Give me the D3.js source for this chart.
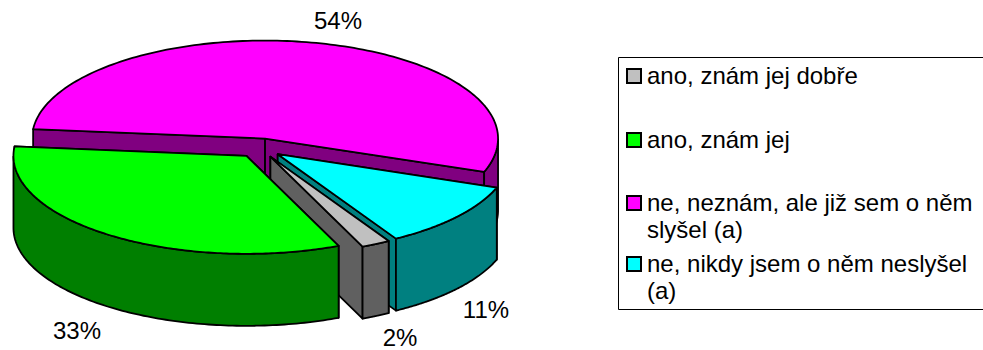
<!DOCTYPE html>
<html>
<head>
<meta charset="utf-8">
<script src="https://cdn.jsdelivr.net/npm/d3@7"></script>
<style>
  html, body { margin: 0; padding: 0; background: #fff; overflow: hidden; }
  text { font-family: "Liberation Sans", Arial, sans-serif; fill: #000; }
</style>
</head>
<body>
<div id="chart"></div>
<script>
const categories = [
  "ano, znám jej dobře",
  "ano, znám jej",
  "ne, neznám, ale již sem o něm slyšel (a)",
  "ne, nikdy jsem o něm neslyšel (a)",
];
const values = [2, 33, 54, 11];
const topColors = ["#c0c0c0", "#00ff00", "#ff00ff", "#00ffff"];
const wallColors = ["#606060", "#007f00", "#800080", "#008080"];

const width = 983;
const height = 350;

const cx = 260;
const cy = 148;
const rx = 233;
const ry = 98;
const depth = 72;
const explode = 23;
const rad = Math.PI / 180;
const startDeg = 149.5;

// percent labels, [middle x, baseline y], same order as categories
const labelPos = [[400, 346], [77, 339], [338, 29], [486, 318]];
const legendBaselines = [84, 148, 211, 272];

const svg = d3
  .select("#chart")
  .append("svg")
  .attr("width", width)
  .attr("height", height);

const pie = d3
  .pie()
  .sort(null)
  .startAngle(startDeg * rad)
  .endAngle((startDeg + 360) * rad);

const arcs = pie(values);
const line = d3.line();

// angle is clockwise from the top, like d3.pie
const point = (c, a, dy = 0) => [
  c[0] + rx * Math.sin(a),
  c[1] - ry * Math.cos(a) + dy,
];

const slices = arcs.map((d, i) => {
  const mid = (d.startAngle + d.endAngle) / 2;
  const c = [
    cx + explode * Math.sin(mid),
    cy - (explode * ry * Math.cos(mid)) / rx,
  ];
  return { i, c, a0: d.startAngle, a1: d.endAngle };
});

const drawPoly = (pts, fill) => {
  svg
    .append("path")
    .attr("d", line(pts) + "Z")
    .attr("fill", fill)
    .attr("stroke", "#000")
    .attr("stroke-width", 1.8)
    .attr("stroke-linejoin", "round");
};

const radialWall = (s, a) => [
  s.c,
  point(s.c, a),
  point(s.c, a, depth),
  [s.c[0], s.c[1] + depth],
];

// outer rim, only the part facing the viewer (90 to 270 degrees)
const outerWall = (s) => {
  const pts = [];
  const steps = 120;
  d3.range(steps + 1).forEach((k) => {
    const a = s.a0 + ((s.a1 - s.a0) * k) / steps;
    if (Math.cos(a) <= 0) pts.push(a);
  });
  if (!pts.length) return null;
  return [
    ...pts.map((a) => point(s.c, a)),
    ...pts.reverse().map((a) => point(s.c, a, depth)),
  ];
};

const topFace = (s) => {
  const steps = 160;
  const pts = [s.c];
  d3.range(steps + 1).forEach((k) => {
    pts.push(point(s.c, s.a0 + ((s.a1 - s.a0) * k) / steps));
  });
  return pts;
};

// back to front: magenta, cyan, grey, green
[2, 3, 0, 1].forEach((i) => {
  const s = slices[i];
  drawPoly(radialWall(s, s.a0), wallColors[i]);
  drawPoly(radialWall(s, s.a1), wallColors[i]);
  const rim = outerWall(s);
  if (rim) drawPoly(rim, wallColors[i]);
  drawPoly(topFace(s), topColors[i]);
});

svg
  .selectAll(".pct")
  .data(values)
  .enter()
  .append("text")
  .attr("class", "pct")
  .attr("x", (d, i) => labelPos[i][0])
  .attr("y", (d, i) => labelPos[i][1])
  .attr("text-anchor", "middle")
  .style("font-size", "24px")
  .text((d) => d + "%");

/* Legend */
const legendX = 618.5;
const legendTop = 57.5;
const legendBottom = 309.5;

svg
  .append("path")
  .attr(
    "d",
    `M${width},${legendTop}H${legendX}V${legendBottom}H${width}`
  )
  .attr("fill", "none")
  .attr("stroke", "#000")
  .attr("stroke-width", 1);

const legendFont = 24;
const legendLine = 27;
const maxTextWidth = 330;

categories.forEach((name, i) => {
  const y = legendBaselines[i];
  svg
    .append("rect")
    .attr("x", 627)
    .attr("y", y - 15)
    .attr("width", 14)
    .attr("height", 14)
    .attr("fill", topColors[i])
    .attr("stroke", "#000")
    .attr("stroke-width", 2);

  const label = svg
    .append("text")
    .attr("x", 647)
    .attr("y", y)
    .style("font-size", legendFont + "px");

  // wrap words into the legend box
  let tspan = label.append("tspan").attr("x", 647);
  let current = "";
  name.split(" ").forEach((word) => {
    const next = current ? current + " " + word : word;
    tspan.text(next);
    if (tspan.node().getComputedTextLength() > maxTextWidth) {
      tspan.text(current);
      tspan = label
        .append("tspan")
        .attr("x", 647)
        .attr("dy", legendLine)
        .text(word);
      current = word;
    } else {
      current = next;
    }
  });
});
</script>
</body>
</html>
